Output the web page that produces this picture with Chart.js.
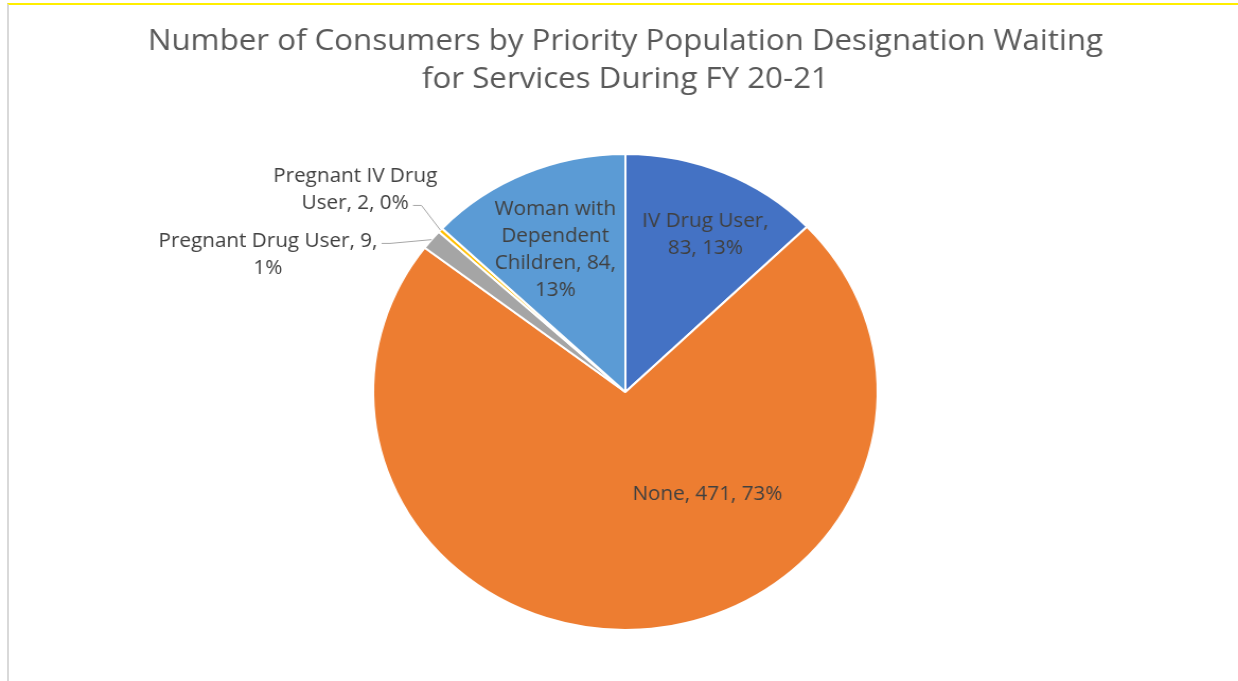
<!DOCTYPE html>
<html>
<head>
<meta charset="utf-8">
<script src="https://cdn.jsdelivr.net/npm/chart.js@4"></script>
<style>
  html, body { margin: 0; padding: 0; background: #fff; overflow: hidden; }
  .frame {
    position: absolute; left: 7px; top: 3px; width: 1231px; height: 678px;
    border-top: 2px solid #ffee00; border-left: 2px solid #d9d9d9;
  }
  #wrap { position: absolute; left: 0; top: 0; width: 1238px; height: 681px; }
  /* reference pie is slightly wider than tall, so stretch the canvas horizontally */
  #chart { transform: scaleX(1.06); transform-origin: 0 0; }
</style>
</head>
<body>
<div class="frame"></div>
<div id="wrap"><canvas id="chart" width="1168" height="681"></canvas></div>
<script>
const categories = ['IV Drug User', 'None', 'Pregnant Drug User', 'Pregnant IV Drug User', 'Woman with Dependent Children'];
const consumers = [83, 471, 9, 2, 84];
const sliceColors = ['#4472c4', '#ed7d31', '#a5a5a5', '#ffc000', '#5b9bd5'];
const titleLines = ['Number of Consumers by Priority Population Designation Waiting', 'for Services During FY 20-21'];

// label text lines per slice
const labelLines = [
    ['IV Drug User,', '83, 13%'],
    ['None, 471, 73%'],
    ['Pregnant Drug User, 9,', '1%'],
    ['Pregnant IV Drug', 'User, 2, 0%'],
    ['Woman with', 'Dependent', 'Children, 84,', '13%']
];

// label placement, in units of pie radius from the centre
const labelPlace = [
    { fx: 0.317, fy: -0.66 },
    { fx: 0.325, fy: 0.429 },
    { fx: -1.417, fy: -0.576, leader: true },
    { fx: -1.071, fy: -0.849, leader: true },
    { fx: -0.278, fy: -0.597 }
];

const LABEL_FONT = '19.5px "Open Sans"';
const LINE_H = 27;

const pieLabels = {
    id: 'pieLabels',
    afterDatasetsDraw(chart) {
        const ctx = chart.ctx;
        const arcs = chart.getDatasetMeta(0).data;
        ctx.save();
        ctx.font = LABEL_FONT;
        ctx.textAlign = 'center';
        ctx.textBaseline = 'middle';
        arcs.forEach((arc, i) => {
            const r = arc.outerRadius;
            const p = labelPlace[i];
            const cx = arc.x + p.fx * r;
            const cy = arc.y + p.fy * r;
            const lines = labelLines[i];
            const top = cy - (lines.length - 1) * LINE_H / 2;

            if (p.leader) {
                const mid = (arc.startAngle + arc.endAngle) / 2;
                const ex = arc.x + Math.cos(mid) * r;
                const ey = arc.y + Math.sin(mid) * r;
                // leader starts just right of the line that faces the pie
                const li = i === 3 ? 1 : 0;
                const w = ctx.measureText(lines[li]).width;
                const sx = cx + w / 2 + 4;
                const sy = top + li * LINE_H + 2;
                ctx.strokeStyle = '#a6a6a6';
                ctx.lineWidth = 1;
                ctx.beginPath();
                ctx.moveTo(sx, sy);
                ctx.lineTo(sx + 8, sy);
                ctx.lineTo(ex, ey);
                ctx.stroke();
            }

            ctx.fillStyle = '#404040';
            lines.forEach((t, k) => ctx.fillText(t, cx, top + k * LINE_H));
        });
        ctx.restore();
    }
};

new Chart(document.getElementById('chart'), {
    type: 'pie',
    data: {
        labels: categories,
        datasets: [{
            data: consumers,
            backgroundColor: sliceColors,
            borderColor: '#ffffff',
            borderWidth: 2
        }]
    },
    options: {
        responsive: false,
        animation: false,
        devicePixelRatio: 1,
        layout: { padding: { left: 12, right: 0, top: 0, bottom: 50 } },
        plugins: {
            legend: { display: false },
            tooltip: { enabled: false },
            title: {
                display: true,
                text: titleLines,
                color: '#595959',
                font: { family: '"Open Sans"', size: 29.5, weight: 'normal', lineHeight: 38 / 29.5 },
                padding: { top: 23, bottom: 54 }
            }
        }
    },
    plugins: [pieLabels]
});
</script>
</body>
</html>
